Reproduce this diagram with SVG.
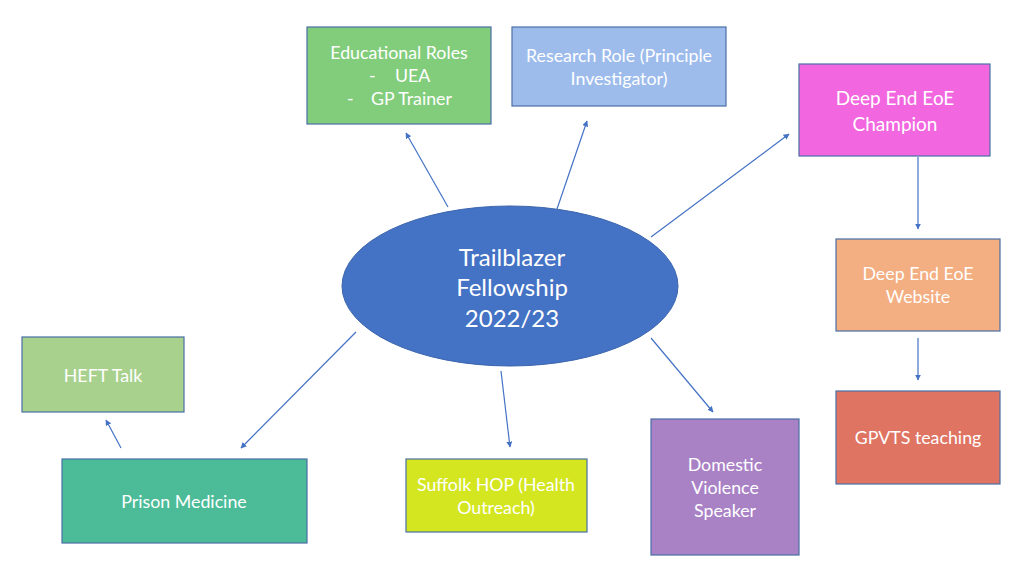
<svg xmlns="http://www.w3.org/2000/svg" width="1024" height="576" viewBox="0 0 1024 576">
<style>
.box{stroke:#4a6fa5;stroke-width:1.2}
.t{font-family:Lato,"Open Sans","Liberation Sans",sans-serif;fill:#ffffff;text-anchor:middle;font-size:17.8px}
.s{text-anchor:start}
.c{stroke:#4472c4;stroke-width:1.2;fill:none;marker-end:url(#ah)}
</style>
<defs>
<marker id="ah" viewBox="0 0 10 10" refX="9" refY="5" markerWidth="6" markerHeight="6" orient="auto" markerUnits="userSpaceOnUse">
<path d="M0,0 L10,5 L0,10 Z" fill="#4472c4"/>
</marker>
</defs>
<rect width="1024" height="576" fill="#ffffff"/>
<g id="connectors">
<line class="c" x1="448" y1="207" x2="406" y2="133"/>
<line class="c" x1="557" y1="209" x2="587" y2="121"/>
<line class="c" x1="651" y1="237" x2="789" y2="134"/>
<line class="c" x1="918" y1="157" x2="918" y2="229"/>
<line class="c" x1="918" y1="338" x2="918" y2="380"/>
<line class="c" x1="651" y1="338" x2="713" y2="412"/>
<line class="c" x1="501" y1="371" x2="510" y2="447"/>
<line class="c" x1="356" y1="332" x2="241" y2="448"/>
<line class="c" x1="121" y1="448" x2="106" y2="420"/>
</g>
<g id="center">
<ellipse cx="510" cy="286" rx="168" ry="80" fill="#4472c4" stroke="#3a64ad" stroke-width="1"/>
<text class="t" x="512" y="266" style="font-size:24px">Trailblazer</text>
<text class="t" x="512" y="296" style="font-size:24px">Fellowship</text>
<text class="t" x="512" y="327" style="font-size:24px">2022/23</text>
</g>
<g id="educational">
<rect class="box" x="307" y="27" width="184" height="97" fill="#82cd7c"/>
<text class="t" x="399" y="59">Educational Roles</text>
<text class="t s" x="369" y="82">-</text>
<text class="t s" x="395" y="82">UEA</text>
<text class="t s" x="347" y="105">-</text>
<text class="t s" x="371" y="105">GP Trainer</text>
</g>
<g id="research">
<rect class="box" x="512" y="27" width="214" height="79" fill="#9dbcec"/>
<text class="t" x="619" y="62">Research Role (Principle</text>
<text class="t" x="619" y="85">Investigator)</text>
</g>
<g id="champion">
<rect class="box" x="799" y="64" width="191" height="92" fill="#f266e0"/>
<text class="t" x="895" y="105" style="font-size:19px">Deep End EoE</text>
<text class="t" x="895" y="131" style="font-size:19px">Champion</text>
</g>
<g id="website">
<rect class="box" x="836" y="239" width="164" height="92" fill="#f3ae82"/>
<text class="t" x="918" y="280">Deep End EoE</text>
<text class="t" x="918" y="303">Website</text>
</g>
<g id="gpvts">
<rect class="box" x="836" y="391" width="164" height="93" fill="#e07463"/>
<text class="t" x="918" y="444">GPVTS teaching</text>
</g>
<g id="heft">
<rect class="box" x="22" y="337" width="162" height="75" fill="#a9d18e"/>
<text class="t" x="103" y="382">HEFT Talk</text>
</g>
<g id="prison">
<rect class="box" x="62" y="459" width="245" height="84" fill="#4cbb98"/>
<text class="t" x="184" y="508">Prison Medicine</text>
</g>
<g id="suffolk">
<rect class="box" x="406" y="459" width="181" height="73" fill="#d4e620"/>
<text class="t" x="496" y="491">Suffolk HOP (Health</text>
<text class="t" x="496" y="514">Outreach)</text>
</g>
<g id="domestic">
<rect class="box" x="651" y="419" width="148" height="136" fill="#a982c6"/>
<text class="t" x="725" y="471">Domestic</text>
<text class="t" x="725" y="494">Violence</text>
<text class="t" x="725" y="517">Speaker</text>
</g>
</svg>
